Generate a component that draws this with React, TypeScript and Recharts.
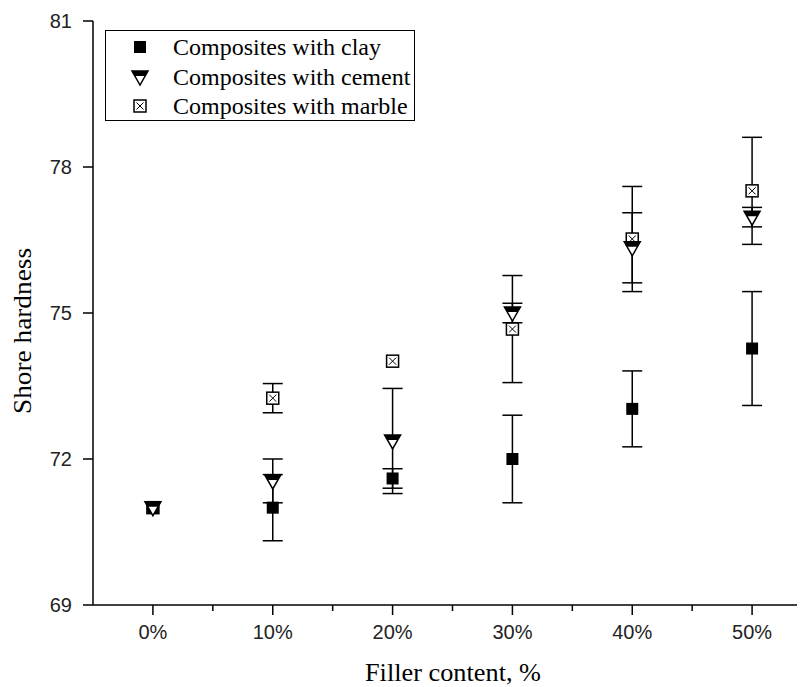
import React from 'react';
import { ScatterChart, Scatter, XAxis, YAxis, ErrorBar, Legend, Label } from 'recharts';

const categories = ['0%', '10%', '20%', '30%', '40%', '50%'];
const clay = [71.0, 71.0, 71.6, 72.0, 73.03, 74.27];
const clayErr = [0, 0.68, 0.2, 0.9, 0.78, 1.17];
const cement = [71.0, 71.55, 72.37, 75.0, 76.34, 76.97];
const cementErr = [0, 0.45, 1.08, 0.2, 0.72, 0.2];
const marble = [71.0, 73.25, 74.01, 74.67, 76.52, 77.51];
const marbleErr = [0, 0.3, 0, 1.1, 1.08, 1.1];
const yTicks = [69, 72, 75, 78, 81];
const xAllTicks = [0, 0.5, 1, 1.5, 2, 2.5, 3, 3.5, 4, 4.5, 5];
const seriesNames = ['Composites with clay', 'Composites with cement', 'Composites with marble'];
const xTitle = 'Filler content, %';
const yTitle = 'Shore hardness';

const build = (vals: number[], errs: number[]) =>
  vals.map((v, i) => ({ x: i, y: v, err: errs[i] }));

const clayData = build(clay, clayErr);
const cementData = build(cement, cementErr);
const marbleData = build(marble, marbleErr);

const serif = "'Liberation Serif', 'Times New Roman', serif";
const sans = "'Liberation Sans', Arial, sans-serif";

const ClayShape = (p: any) => {
  const { cx, cy } = p;
  return <rect x={cx - 6} y={cy - 6} width={12} height={12} fill="#000" />;
};

const CementShape = (p: any) => {
  const { cx, cy } = p;
  return (
    <g>
      <polygon
        points={`${cx - 8},${cy - 6} ${cx + 8},${cy - 6} ${cx},${cy + 8}`}
        fill="#fff"
        stroke="#000"
        strokeWidth={1.5}
      />
      <polygon
        points={`${cx - 8},${cy - 6} ${cx + 8},${cy - 6} ${cx + 5.1},${cy - 1} ${cx - 5.1},${cy - 1}`}
        fill="#000"
      />
    </g>
  );
};

const MarbleShape = (p: any) => {
  const { cx, cy } = p;
  return (
    <g>
      <rect x={cx - 6} y={cy - 6} width={12} height={12} fill="#fff" stroke="#000" strokeWidth={1.5} />
      <line x1={cx - 3.5} y1={cy - 3.5} x2={cx + 3.5} y2={cy + 3.5} stroke="#000" strokeWidth={1} />
      <line x1={cx - 3.5} y1={cy + 3.5} x2={cx + 3.5} y2={cy - 3.5} stroke="#000" strokeWidth={1} />
    </g>
  );
};

const legendIcon = (i: number) => {
  const props = { cx: 8, cy: 8 };
  return (
    <svg width={16} height={16} style={{ overflow: 'visible', display: 'block' }}>
      {i === 0 ? <ClayShape {...props} /> : i === 1 ? <CementShape {...props} /> : <MarbleShape {...props} />}
    </svg>
  );
};

const renderLegend = () => (
  <div
    style={{
      width: 310,
      height: 91,
      boxSizing: 'border-box',
      border: '1.5px solid #000',
      background: '#fff',
      paddingTop: 1,
    }}
  >
    {seriesNames.map((n, i) => (
      <div key={n} style={{ height: 29.5, position: 'relative' }}>
        <div style={{ position: 'absolute', left: 26, top: 7 }}>{legendIcon(i)}</div>
        <span
          style={{
            position: 'absolute',
            left: 67,
            top: 0,
            fontFamily: serif,
            fontSize: 24,
            color: '#000',
            lineHeight: '30px',
            whiteSpace: 'nowrap',
          }}
        >
          {n}
        </span>
      </div>
    ))}
  </div>
);

const XTick = (p: any) => {
  const { x, y, payload } = p;
  const v = payload.value as number;
  const major = Number.isInteger(v);
  return (
    <g>
      <line x1={x} y1={y} x2={x} y2={y + (major ? 10 : 6)} stroke="#000" strokeWidth={1.5} />
      {major && (
        <text x={x} y={y + 34} textAnchor="middle" fill="#222" fontSize={20} fontFamily={sans}>
          {categories[v]}
        </text>
      )}
    </g>
  );
};

const XTitle = () => (
  <text x={445} y={673} textAnchor="middle" fontFamily={serif} fontSize={25} fill="#000" textLength={176} lengthAdjust="spacingAndGlyphs">
    {xTitle}
  </text>
);

const YTitle = () => (
  <text
    x={23}
    y={323}
    transform="rotate(-90, 23, 323)"
    textAnchor="middle"
    fontFamily={serif}
    fontSize={26}
    fill="#000"
    textLength={166}
    lengthAdjust="spacingAndGlyphs"
  >
    {yTitle}
  </text>
);

export default function App() {
  return (
    <div style={{ width: 797, height: 679, overflow: 'hidden', position: 'relative' }}>
      <ScatterChart width={809} height={679} margin={{ top: 13, right: 5, bottom: 0, left: 0 }}>
        <XAxis
          xAxisId="top"
          orientation="top"
          type="number"
          dataKey="x"
          domain={[-0.5, 5.5]}
          tick={false}
          tickLine={false}
          height={0}
          axisLine={{ stroke: '#000', strokeWidth: 1.5 }}
        />
        <XAxis
          type="number"
          dataKey="x"
          domain={[-0.5, 5.5]}
          ticks={xAllTicks}
          interval={0}
          tickSize={0}
          tickMargin={0}
          height={82}
          axisLine={{ stroke: '#000', strokeWidth: 1.5 }}
          tickLine={false}
          tick={XTick}
        >
          <Label content={XTitle} />
        </XAxis>
        <YAxis
          type="number"
          dataKey="y"
          domain={[69, 81]}
          ticks={yTicks}
          interval={0}
          width={85}
          tickSize={10}
          tickMargin={11}
          axisLine={{ stroke: '#000', strokeWidth: 1.5 }}
          tickLine={{ stroke: '#000', strokeWidth: 1.5 }}
          tick={{ fill: '#222', fontSize: 20, fontFamily: sans }}
        >
          <Label content={YTitle} />
        </YAxis>
        <Legend
          content={renderLegend}
          layout="horizontal"
          verticalAlign="middle"
          align="center"
          wrapperStyle={{ position: 'absolute', left: 97, top: 22, width: 310, height: 91 }}
        />
        <Scatter name={seriesNames[2]} data={marbleData} shape={MarbleShape} isAnimationActive={false}>
          <ErrorBar dataKey="err" direction="y" width={10} stroke="#000" strokeWidth={1.5} />
        </Scatter>
        <Scatter name={seriesNames[0]} data={clayData} shape={ClayShape} isAnimationActive={false}>
          <ErrorBar dataKey="err" direction="y" width={10} stroke="#000" strokeWidth={1.5} />
        </Scatter>
        <Scatter name={seriesNames[1]} data={cementData} shape={CementShape} isAnimationActive={false}>
          <ErrorBar dataKey="err" direction="y" width={10} stroke="#000" strokeWidth={1.5} />
        </Scatter>
      </ScatterChart>
    </div>
  );
}
